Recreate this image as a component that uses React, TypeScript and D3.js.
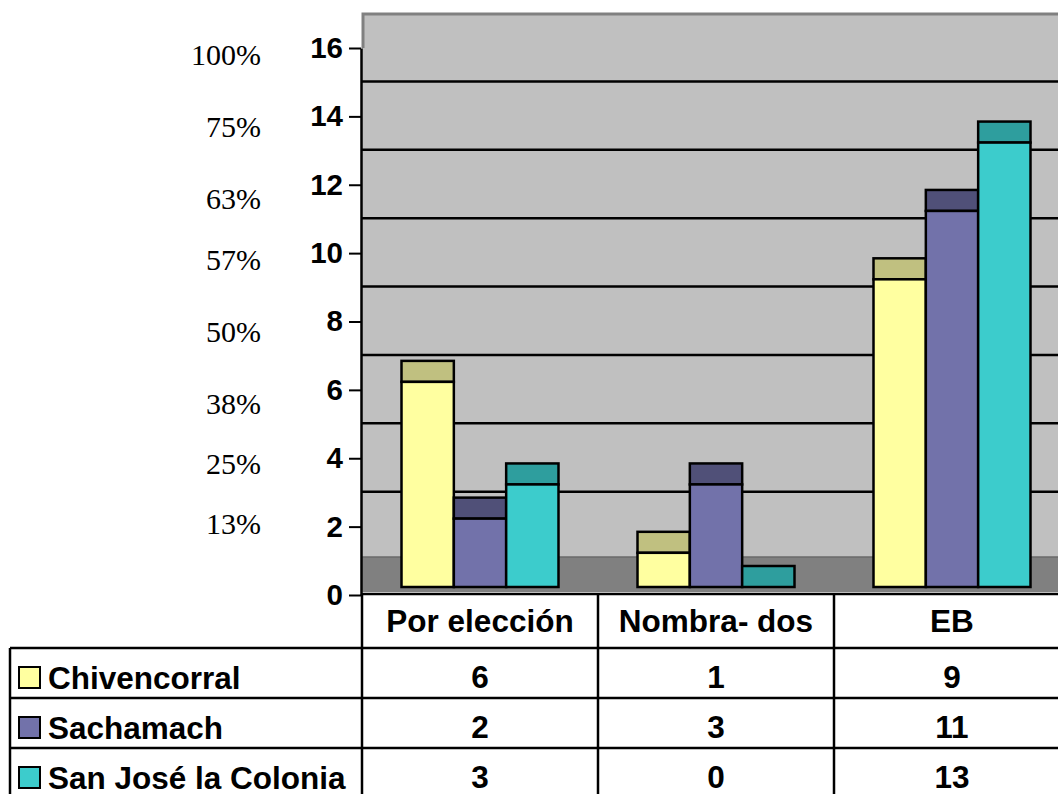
import React, { useEffect, useRef } from 'react';
import * as d3 from 'd3';

const categories = ['Por elección', 'Nombra- dos', 'EB'];
const seriesNames = ['Chivencorral', 'Sachamach', 'San José la Colonia'];
const chivencorral = [6, 1, 9];
const sachamach = [2, 3, 11];
const sanJose = [3, 0, 13];
const yTicks = [0, 2, 4, 6, 8, 10, 12, 14, 16];
const pctLabels = ['100%', '75%', '63%', '57%', '50%', '38%', '25%', '13%'];
// vertical spot of each percent label, in axis units
const pctAt = [15.8, 13.7, 11.6, 9.8, 7.7, 5.6, 3.85, 2.1];

const frontColors = ['#ffffa0', '#7272aa', '#3ccccc'];
const topColors = ['#c0c080', '#505078', '#2e9e9e'];

const App = () => {
  const svgRef = useRef(null);

  useEffect(() => {
    const svg = d3.select(svgRef.current);
    svg.selectAll('*').remove();

    const width = 1058;
    const height = 794;
    const left = 362;
    const colW = 236;
    const depth = 35;
    const barShift = 8;
    const topDepth = 21;
    const sans = "'Liberation Sans', Arial, sans-serif";
    const tableFont = 31.5;
    const series = [chivencorral, sachamach, sanJose];

    const y = d3.scaleLinear().domain([0, 16]).range([595, 48]);
    const x = d3.scaleBand().domain(categories).range([left, left + colW * 3]).padding(0);
    const xs = d3.scaleBand().domain(seriesNames).range([39.5, 196.5]).padding(0);

    svg.attr('viewBox', [0, 0, width, height]);

    // back wall
    svg.append('rect')
      .attr('x', left).attr('y', y(16) - depth)
      .attr('width', width - left).attr('height', y(0) - y(16))
      .attr('fill', '#c0c0c0');
    svg.append('path')
      .attr('d', `M${left + 1},${y(16)} V${y(16) - depth + 1} H${width}`)
      .attr('fill', 'none').attr('stroke', '#808080').attr('stroke-width', 3);

    svg.append('g')
      .selectAll('line')
      .data(yTicks.filter(v => v > 0 && v < 16))
      .join('line')
      .attr('x1', left).attr('x2', width)
      .attr('y1', d => y(d) - depth).attr('y2', d => y(d) - depth)
      .attr('stroke', '#000').attr('stroke-width', 2.5);

    // floor
    svg.append('rect')
      .attr('x', left).attr('y', y(0) - depth - 3)
      .attr('width', width - left).attr('height', depth)
      .attr('fill', '#808080');
    svg.append('line')
      .attr('x1', left).attr('x2', width)
      .attr('y1', y(0) - depth - 3).attr('y2', y(0) - depth - 3)
      .attr('stroke', '#6a6a6a').attr('stroke-width', 1.5);

    // bars
    categories.forEach((cat, ci) => {
      series.forEach((vals, si) => {
        const bx = x(cat) + xs(seriesNames[si]);
        const bw = xs.bandwidth();
        const ft = y(vals[ci]) - barShift;
        const fb = y(0) - barShift;
        const g = svg.append('g');
        g.append('rect')
          .attr('x', bx).attr('y', ft - topDepth)
          .attr('width', bw).attr('height', topDepth)
          .attr('fill', topColors[si])
          .attr('stroke', '#000').attr('stroke-width', 2.5);
        if (fb > ft) {
          g.append('rect')
            .attr('x', bx).attr('y', ft)
            .attr('width', bw).attr('height', fb - ft)
            .attr('fill', frontColors[si])
            .attr('stroke', '#000').attr('stroke-width', 2.5);
        }
      });
    });

    // left axis
    svg.append('g')
      .attr('transform', `translate(${left - 1},0)`)
      .call(d3.axisLeft(y).tickValues(yTicks).tickSize(12).tickPadding(6).tickSizeOuter(0))
      .call(g => g.select('.domain').attr('stroke-width', 2.5))
      .call(g => g.selectAll('.tick line').attr('stroke-width', 2))
      .call(g => g.selectAll('.tick text')
        .attr('font-family', sans).attr('font-weight', 'bold')
        .attr('font-size', 29.5).attr('fill', '#000'));

    svg.append('g')
      .selectAll('text')
      .data(pctLabels)
      .join('text')
      .attr('x', 261)
      .attr('y', (d, i) => y(pctAt[i]))
      .attr('dy', '0.35em')
      .attr('text-anchor', 'end')
      .attr('font-family', "'Liberation Serif', 'Times New Roman', serif")
      .attr('font-size', 30)
      .text(d => d);

    // data table
    const rowTop = [595, 648, 698, 748];
    const table = svg.append('g');
    table.append('line')
      .attr('x1', left - 1).attr('x2', width).attr('y1', 594).attr('y2', 594)
      .attr('stroke', '#000').attr('stroke-width', 2.5);
    [648, 698, 748].forEach(yy => {
      table.append('line')
        .attr('x1', 10).attr('x2', width).attr('y1', yy).attr('y2', yy)
        .attr('stroke', '#000').attr('stroke-width', 2.5);
    });
    table.append('line')
      .attr('x1', 10).attr('x2', 10).attr('y1', 648).attr('y2', height)
      .attr('stroke', '#000').attr('stroke-width', 2.5);
    [left, left + colW, left + colW * 2].forEach(xx => {
      table.append('line')
        .attr('x1', xx).attr('x2', xx).attr('y1', 594).attr('y2', height)
        .attr('stroke', '#000').attr('stroke-width', 2.5);
    });

    table.selectAll('.cat')
      .data(categories)
      .join('text')
      .attr('class', 'cat')
      .attr('x', d => x(d) + colW / 2)
      .attr('y', 632)
      .attr('text-anchor', 'middle')
      .attr('font-family', sans).attr('font-weight', 'bold').attr('font-size', tableFont)
      .text(d => d);

    seriesNames.forEach((name, si) => {
      const top = rowTop[si + 1];
      table.append('rect')
        .attr('x', 19).attr('y', top + 19)
        .attr('width', 21).attr('height', 21)
        .attr('fill', frontColors[si])
        .attr('stroke', '#000').attr('stroke-width', 2);
      table.append('text')
        .attr('x', 48).attr('y', top + 41)
        .attr('font-family', sans).attr('font-weight', 'bold').attr('font-size', tableFont)
        .text(name);
      series[si].forEach((v, ci) => {
        table.append('text')
          .attr('x', x(categories[ci]) + colW / 2)
          .attr('y', top + 40)
          .attr('text-anchor', 'middle')
          .attr('font-family', sans).attr('font-weight', 'bold').attr('font-size', tableFont)
          .text(v);
      });
    });
  }, []);

  return (
    <svg
      ref={svgRef}
      width={1058}
      height={794}
      style={{ position: 'absolute', left: 0, top: 0, background: '#fff' }}
    ></svg>
  );
};

export default App;
